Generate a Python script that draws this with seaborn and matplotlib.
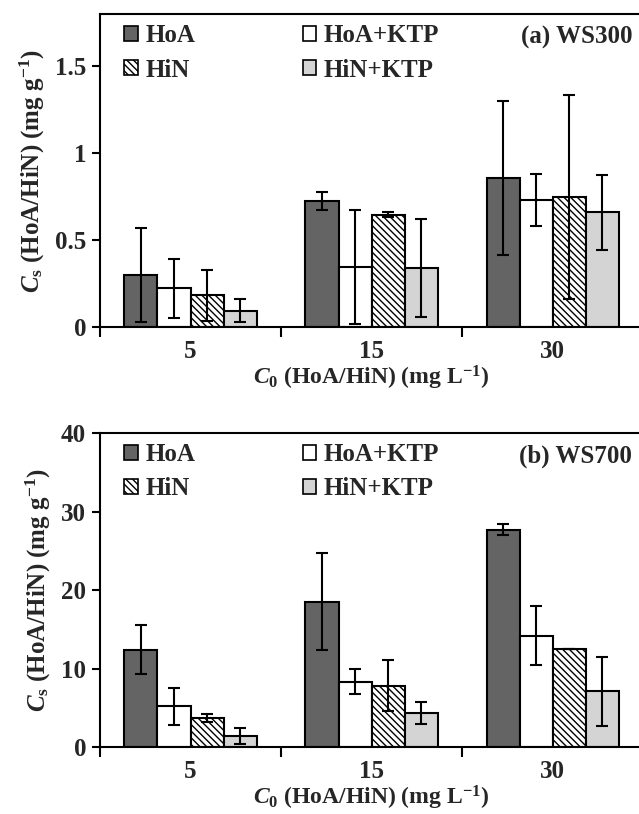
import matplotlib
matplotlib.use("Agg")
import matplotlib.pyplot as plt
import seaborn as sns
import pandas as pd
import numpy as np
from matplotlib.patches import Patch
from matplotlib.ticker import FixedLocator

# ---------------- data ----------------
categories = ["5", "15", "30"]
series = ["HoA", "HoA+KTP", "HiN", "HiN+KTP"]

ws300_HoA = [0.30, 0.725, 0.858]
ws300_HoA_KTP = [0.223, 0.346, 0.733]
ws300_HiN = [0.185, 0.648, 0.748]
ws300_HiN_KTP = [0.096, 0.340, 0.660]
ws300_err_HoA = [0.27, 0.05, 0.445]
ws300_err_HoA_KTP = [0.168, 0.33, 0.15]
ws300_err_HiN = [0.147, 0.013, 0.585]
ws300_err_HiN_KTP = [0.066, 0.28, 0.215]

ws700_HoA = [12.4, 18.5, 27.7]
ws700_HoA_KTP = [5.2, 8.3, 14.2]
ws700_HiN = [3.7, 7.8, 12.5]
ws700_HiN_KTP = [1.4, 4.3, 7.1]
ws700_err_HoA = [3.15, 6.2, 0.75]
ws700_err_HoA_KTP = [2.35, 1.6, 3.8]
ws700_err_HiN = [0.47, 3.25, 0.0]
ws700_err_HiN_KTP = [1.08, 1.38, 4.4]

y_ticks_a = [0, 0.5, 1, 1.5]
y_ticklabels_a = ["0", "0.5", "1", "1.5"]
y_ticks_b = [0, 10, 20, 30, 40]
y_ticklabels_b = ["0", "10", "20", "30", "40"]

# ---------------- style ----------------
sns.set_theme(style="white")
plt.rcParams["font.family"] = ["Liberation Serif", "DejaVu Serif"]
plt.rcParams["font.weight"] = "bold"
plt.rcParams["mathtext.fontset"] = "custom"
plt.rcParams["mathtext.rm"] = "Liberation Serif:bold"
plt.rcParams["mathtext.it"] = "Liberation Serif:bold:italic"
plt.rcParams["mathtext.bf"] = "Liberation Serif:bold"
plt.rcParams["hatch.linewidth"] = 1.0

colors = {"HoA": "#646464", "HoA+KTP": "#ffffff", "HiN": "#ffffff", "HiN+KTP": "#d4d4d4"}
hatches = {"HoA": "", "HoA+KTP": "", "HiN": "\\\\\\\\\\", "HiN+KTP": ""}

FS = 18

fig = plt.figure(figsize=(6.39, 8.14), dpi=100)
ax_a = fig.add_axes([0.1565, 0.598, 0.85, 0.3845])
ax_b = fig.add_axes([0.1565, 0.0823, 0.85, 0.3857])


def make_df(vals, errs):
    rows = []
    for s, v, e in zip(series, vals, errs):
        for c, vv, ee in zip(categories, v, e):
            rows.append({"C0": c, "series": s, "value": vv, "err": ee})
    return pd.DataFrame(rows)


def draw(ax, df, ylim, yticks, yticklabels, title):
    sns.barplot(data=df, x="C0", y="value", hue="series", order=categories,
                hue_order=series, palette=colors, edgecolor="black",
                linewidth=1.5, width=0.73, errorbar=None, legend=False, ax=ax,
                saturation=1)
    for s, cont in zip(series, ax.containers):
        sub = df[df["series"] == s].set_index("C0").loc[categories]
        xs, ys = [], []
        for p in cont.patches:
            p.set_hatch(hatches[s])
            xs.append(p.get_x() + p.get_width() / 2)
            ys.append(p.get_height())
        ax.errorbar(xs, ys, yerr=sub["err"].values, fmt="none", ecolor="black",
                    elinewidth=1.5, capsize=4, capthick=1.5, zorder=5)
    ax.set_xlim(-0.5, 2.5)
    ax.set_ylim(*ylim)
    ax.set_yticks(yticks)
    ax.set_yticklabels(yticklabels, fontsize=FS, fontweight="bold")
    ax.set_xticks(range(len(categories)))
    ax.set_xticklabels(categories, fontsize=FS, fontweight="bold")
    ax.xaxis.set_minor_locator(FixedLocator([-0.5, 0.5, 1.5, 2.5]))
    ax.tick_params(axis="x", which="major", length=0, pad=9)
    ax.tick_params(axis="x", which="minor", length=7, width=1.5, direction="out",
                   bottom=True, color="black")
    ax.tick_params(axis="y", length=6, width=1.5, direction="out", left=True,
                   color="black", pad=4)
    for side in ["left", "bottom", "top"]:
        ax.spines[side].set_visible(True)
        ax.spines[side].set_color("black")
        ax.spines[side].set_linewidth(1.5)
    ax.spines["right"].set_visible(False)
    ax.set_xlabel(r"$C_0$ (HoA/HiN) (mg L$^{-1}$)", fontsize=17, fontweight="bold",
                  labelpad=1)
    ax.set_ylabel(r"$C_\mathrm{s}$ (HoA/HiN) (mg g$^{-1}$)", fontsize=FS,
                  fontweight="bold", labelpad=6)
    handles = [Patch(facecolor=colors[s], edgecolor="black", hatch=hatches[s],
                     linewidth=1.2, label=s) for s in ["HoA", "HiN", "HoA+KTP", "HiN+KTP"]]
    ax.legend(handles=handles, ncol=2, loc="upper left", bbox_to_anchor=(0.044, 0.968),
              frameon=False, prop={"family": "Liberation Serif", "weight": "bold", "size": FS},
              handlelength=0.55, handleheight=0.55, handletextpad=0.3,
              columnspacing=4.3, labelspacing=0.45, borderpad=0, borderaxespad=0)
    ax.text(0.98, 0.927, title, transform=ax.transAxes, ha="right", va="center",
            fontsize=FS, fontweight="bold")
    ax.grid(False)


draw(ax_a, make_df([ws300_HoA, ws300_HoA_KTP, ws300_HiN, ws300_HiN_KTP],
                   [ws300_err_HoA, ws300_err_HoA_KTP, ws300_err_HiN, ws300_err_HiN_KTP]),
     (0, 1.8), y_ticks_a, y_ticklabels_a, "(a) WS300")
draw(ax_b, make_df([ws700_HoA, ws700_HoA_KTP, ws700_HiN, ws700_HiN_KTP],
                   [ws700_err_HoA, ws700_err_HoA_KTP, ws700_err_HiN, ws700_err_HiN_KTP]),
     (0, 40), y_ticks_b, y_ticklabels_b, "(b) WS700")

fig.savefig("out.png", dpi=100)
